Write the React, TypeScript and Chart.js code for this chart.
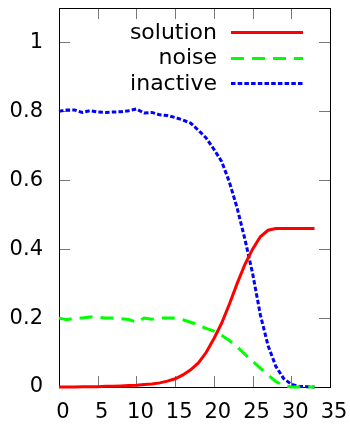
import React, { useEffect, useRef } from 'react';
import { Chart, registerables } from 'chart.js';

Chart.register(...registerables);

const xs = [0, 1, 2, 3, 4, 5, 6, 7, 8, 9, 10, 11, 12, 13, 14, 15, 16, 17, 18, 19, 20, 21, 22, 23, 24, 25, 26, 27, 28, 29, 30, 31, 32, 33];
const solution = [0, 0, 0, 0.001, 0.001, 0.001, 0.002, 0.002, 0.003, 0.004, 0.005, 0.007, 0.009, 0.012, 0.017, 0.024, 0.035, 0.05, 0.07, 0.1, 0.14, 0.185, 0.24, 0.3, 0.355, 0.4, 0.436, 0.455, 0.46, 0.46, 0.46, 0.46, 0.46, 0.46];
const noise = [0.2, 0.195, 0.2, 0.2, 0.203, 0.203, 0.2, 0.2, 0.198, 0.196, 0.188, 0.2, 0.197, 0.2, 0.2, 0.2, 0.195, 0.188, 0.18, 0.17, 0.162, 0.15, 0.135, 0.117, 0.095, 0.075, 0.055, 0.035, 0.016, 0.004, 0, 0, 0, 0];
const inactive = [0.8, 0.804, 0.804, 0.797, 0.802, 0.798, 0.797, 0.798, 0.799, 0.802, 0.807, 0.795, 0.797, 0.79, 0.788, 0.782, 0.775, 0.766, 0.745, 0.723, 0.69, 0.655, 0.595, 0.52, 0.43, 0.33, 0.21, 0.12, 0.06, 0.025, 0.008, 0.002, 0.001, 0];
const seriesLabels = ['solution', 'noise', 'inactive'];
const xTicks = [0, 5, 10, 15, 20, 25, 30, 35];
const yTicks = [0, 0.2, 0.4, 0.6, 0.8, 1];

const FONT = 'DejaVu Sans';

const framePlugin = {
  id: 'frame',
  beforeDatasetsDraw(chart: any) {
    const { ctx, chartArea: a, scales } = chart;
    const x = scales.x;
    const y = scales.y;
    ctx.save();
    ctx.lineWidth = 1;
    ctx.strokeStyle = '#777';
    const L = 11;
    const line = (x1: number, y1: number, x2: number, y2: number) => {
      ctx.beginPath();
      ctx.moveTo(x1, y1);
      ctx.lineTo(x2, y2);
      ctx.stroke();
    };
    x.ticks.forEach((t: any) => {
      const px = Math.round(x.getPixelForValue(t.value)) + 0.5;
      line(px, a.bottom, px, a.bottom - L);
      line(px, a.top, px, a.top + L);
    });
    y.ticks.forEach((t: any) => {
      const py = Math.round(y.getPixelForValue(t.value)) + 0.5;
      line(a.left, py, a.left + L, py);
      line(a.right, py, a.right - L, py);
    });
    ctx.strokeStyle = '#000';
    ctx.strokeRect(Math.round(a.left) + 0.5, Math.round(a.top) + 0.5, Math.round(a.right - a.left), Math.round(a.bottom - a.top));
    ctx.restore();
  },
};

const legendPlugin = {
  id: 'gpLegend',
  afterDraw(chart: any) {
    const { ctx } = chart;
    ctx.save();
    ctx.font = `22px "${FONT}"`;
    ctx.fillStyle = '#000';
    ctx.textAlign = 'right';
    ctx.textBaseline = 'middle';
    chart.data.datasets.forEach((ds: any, i: number) => {
      const cy = 32 + 25.5 * i;
      ctx.fillText(ds.label, 217, cy + 1);
      ctx.beginPath();
      ctx.strokeStyle = ds.borderColor;
      ctx.lineWidth = ds.borderWidth;
      ctx.setLineDash(ds.borderDash || []);
      ctx.moveTo(231, Math.round(cy) + 0.5);
      ctx.lineTo(303, Math.round(cy) + 0.5);
      ctx.stroke();
    });
    ctx.restore();
  },
};

export default function App() {
  const ref = useRef<HTMLCanvasElement>(null);
  useEffect(() => {
    document.body.style.margin = '0';
    const colors = ['#ff0000', '#00ff00', '#0000ff'];
    const dashes = [[], [13, 8], [4.5, 2.2]];
    const series = [solution, noise, inactive];
    const chart = new Chart(ref.current!, {
      type: 'line',
      data: {
        datasets: series.map((s, i) => ({
          label: seriesLabels[i],
          data: xs.map((x, j) => ({ x, y: s[j] })),
          borderColor: colors[i],
          backgroundColor: colors[i],
          borderWidth: 3,
          borderDash: dashes[i],
          pointRadius: 0,
          tension: 0,
          fill: false,
          clip: 6,
        })),
      },
      options: {
        animation: false,
        responsive: false,
        devicePixelRatio: 1,
        layout: { padding: { top: 8, right: 20, left: 0, bottom: 0 } },
        plugins: { legend: { display: false }, tooltip: { enabled: false } },
        scales: {
          x: {
            type: 'linear',
            min: 0,
            max: 35,
            grid: { display: false, drawTicks: false },
            border: { display: false },
            afterBuildTicks: (s: any) => { s.ticks = xTicks.map((v) => ({ value: v })); },
            afterFit: (s: any) => { s.height = 37; s.paddingLeft = 0; s.paddingRight = 0; },
            ticks: {
              color: '#000',
              font: { family: FONT, size: 21 },
              padding: 13,
              labelOffset: 4,
              maxRotation: 0,
              autoSkip: false,
              callback: (v: any) => String(v),
            },
          },
          y: {
            type: 'linear',
            min: 0,
            max: 1.1,
            grid: { display: false, drawTicks: false },
            border: { display: false },
            afterBuildTicks: (s: any) => { s.ticks = yTicks.map((v) => ({ value: v })); },
            afterFit: (s: any) => { s.width = 59; s.paddingTop = 0; s.paddingBottom = 0; },
            ticks: {
              color: '#000',
              font: { family: FONT, size: 21 },
              padding: 16,
              autoSkip: false,
              callback: (v: any) => String(v),
            },
          },
        },
      },
      plugins: [framePlugin, legendPlugin],
    } as any);
    return () => chart.destroy();
  }, []);
  return <canvas ref={ref} width={350} height={424} style={{ display: 'block' }} />;
}
